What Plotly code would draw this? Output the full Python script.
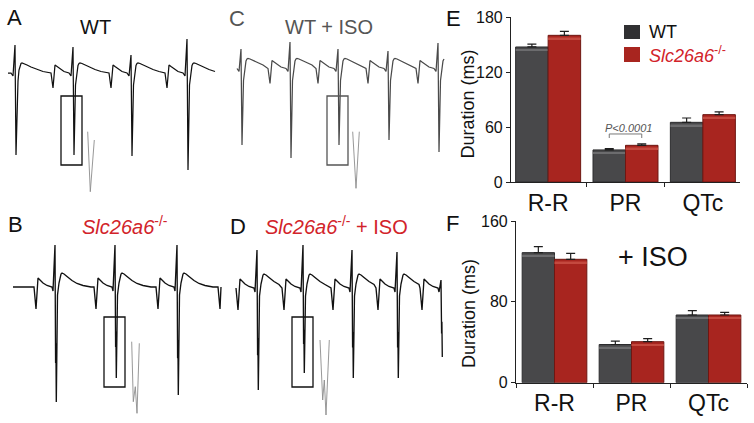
import plotly.graph_objects as go

W, H = 754, 423
FONT = "Arial, Liberation Sans, sans-serif"
GRAY_BAR = "#48484a"
RED_BAR = "#a8251f"
GRAY_HI = "#6c6c6e"
RED_HI = "#c4493f"
RED_TXT = "#d2232a"

# ---------------- bar chart data ----------------
intervals = ["R-R", "PR", "QTc"]
wt_base = [147.3, 35.0, 65.1]
wt_base_err = [3.2, 1.5, 4.7]
ko_base = [160.0, 40.0, 73.5]
ko_base_err = [4.4, 1.5, 2.9]
wt_iso = [128.7, 37.8, 67.0]
wt_iso_err = [5.9, 3.3, 4.3]
ko_iso = [122.1, 40.6, 67.0]
ko_iso_err = [5.9, 3.0, 2.6]
yticks_base = [0, 60, 120, 180]
yticks_iso = [0, 80, 160]

# ---------------- ECG data (ms, mV) ----------------
# WT beat template
wt_pre_ms = [-55, -50, -45, -40, -32.5, -22.5, -10, -5]
wt_pre_mv = [0, -0.30, 0.16, 0.13, 0.08, 0.03, 0, -0.06]
wt_s_ms = 2.5
wt_tail_ms = [6.25, 7.5, 10, 12.5, 15, 17.5, 22.5, 30, 40, 55, 70, 90]
wt_tail_mv = [-0.24, -0.16, 0.06, 0.15, 0.19, 0.20, 0.19, 0.16, 0.12, 0.07, 0.03, 0]
# Slc26a6-/- beat template (notched S downstroke)
ko_pre_ms = [-52.5, -47.5, -42.5, -37.5, -30, -20, -7.5, -5]
ko_pre_mv = [0, -0.44, 0.18, 0.14, 0.08, 0.03, 0, -0.08]
ko_notch_ms = [1.5, 2.25]
ko_notch_frac = [0.66, 0.49]
ko_s_ms = 3.25
ko_tail_ms = [6.25, 10, 12.5, 15, 17.5, 22.5, 30, 42.5, 55, 70, 90]
ko_tail_mv = [-0.16, 0.08, 0.2, 0.26, 0.28, 0.26, 0.21, 0.13, 0.07, 0.03, 0]

# panel A: WT
a_r_ms = [17.5, 162.5, 307.5, 447.5]
a_r_mv = [0.56, 0.52, 0.36, 0.68]
a_s_mv = [1.64, 1.64, 1.66, 1.94]
a_end_ms = 517.5
a_inset_ms = [199.25, 205.75, 215.75]
a_inset_mv = [-1.174, -2.374, -1.34]
# panel C: WT + ISO
c_r_ms = [10, 132.5, 252.5, 377.5, 502.5]
c_r_mv = [0.39, 0.53, 0.39, 0.35, 0.51]
c_s_mv = [1.53, 1.79, 1.53, 1.43, 1.67]
c_end_ms = 517.5
c_inset_ms = [289.25, 297.5, 305.75]
c_inset_mv = [-1.264, -2.396, -1.264]
# panel B: Slc26a6-/-
b_r_ms = [105, 255, 410, 565]
b_r_mv = [0.84, 0.84, 0.84, 0.84]
b_s_mv = [2.3, 1.82, 2.16, 2.0]
b_end_ms = 520
b_inset_ms = [296.75, 300.75, 305.75, 310, 315.75]
b_inset_mv = [-1.094, -2.294, -1.994, -2.526, -1.126]
# panel D: Slc26a6-/- + ISO
d_r_ms = [52.5, 167.5, 290, 402.5, 512.5]
d_r_mv = [0.76, 0.86, 0.76, 0.72, 0.16]
d_s_mv = [2.04, 1.7, 1.8, 1.8, 1.38]
d_end_ms = 516
d_inset_ms = [210, 216.75, 220.75, 225, 233.25]
d_inset_mv = [-1.04, -2.24, -1.84, -2.54, -1.04]


def build_ecg(r_ms, r_mv, s_mv, end, ko):
    pre_ms, pre_mv = (ko_pre_ms, ko_pre_mv) if ko else (wt_pre_ms, wt_pre_mv)
    tail_ms, tail_mv = (ko_tail_ms, ko_tail_mv) if ko else (wt_tail_ms, wt_tail_mv)
    ts, vs = [0.0], [0.0]
    for i, tr in enumerate(r_ms):
        for dt, v in zip(pre_ms, pre_mv):
            t = tr + dt
            if t > ts[-1] and t <= end:
                ts.append(t); vs.append(v)
        qrs_t = [tr]
        qrs_v = [r_mv[i]]
        if ko:
            for dt, f in zip(ko_notch_ms, ko_notch_frac):
                qrs_t.append(tr + dt); qrs_v.append(-f * s_mv[i])
            qrs_t.append(tr + ko_s_ms); qrs_v.append(-s_mv[i])
        else:
            qrs_t.append(tr + wt_s_ms); qrs_v.append(-s_mv[i])
        for t, v in zip(qrs_t, qrs_v):
            if t <= end:
                ts.append(t); vs.append(v)
        nxt = r_ms[i + 1] + pre_ms[0] if i + 1 < len(r_ms) else 1e9
        for dt, v in zip(tail_ms, tail_mv):
            t = tr + dt
            if t < nxt and t <= end:
                ts.append(t); vs.append(v)
    if ts[-1] < end - 1:
        ts.append(end); vs.append(0.0)
    return ts, vs


fig = go.Figure()

# ---------------- bars ----------------
def add_bars(wt, wte, ko, koe, xa, ya, hl_off, hl_h):
    for vals, errs, col, hi, edge, grp in [(wt, wte, GRAY_BAR, GRAY_HI, "#2c2c2e", "wt"),
                                           (ko, koe, RED_BAR, RED_HI, "#6e1712", "ko")]:
        fig.add_trace(go.Bar(
            x=intervals, y=vals, xaxis=xa, yaxis=ya, offsetgroup=grp,
            marker=dict(color=col, line=dict(color=edge, width=1)),
            error_y=dict(type="data", symmetric=False, array=errs,
                         arrayminus=[0] * len(errs), color="#1e1e1e",
                         thickness=1.2, width=4.5),
            showlegend=False, hoverinfo="skip"))
        # subtle top highlight band (3-D look of the original bars)
        fig.add_trace(go.Bar(
            x=intervals, y=[hl_h] * len(vals), base=[v - hl_off for v in vals],
            xaxis=xa, yaxis=ya, offsetgroup=grp,
            marker=dict(color=hi, line=dict(width=0)),
            showlegend=False, hoverinfo="skip"))

add_bars(wt_base, wt_base_err, ko_base, ko_base_err, "x", "y", 4.2, 1.8)
add_bars(wt_iso, wt_iso_err, ko_iso, ko_iso_err, "x2", "y2", 3.8, 1.6)

# ---------------- ECG panels ----------------
MS_PER_PX = 2.5
MV_PER_PX = 0.02

panels = [
    ("3", (0, 225, 0, 200), (8, 73), (a_r_ms, a_r_mv, a_s_mv, a_end_ms), False, "#111111",
     (a_inset_ms, a_inset_mv), (61, 82, 96, 165), "#111111"),
    ("4", (225, 450, 0, 200), (237, 68.5), (c_r_ms, c_r_mv, c_s_mv, c_end_ms), False, "#4a4a4a",
     (c_inset_ms, c_inset_mv), (327, 348, 96, 165), "#555555"),
    ("5", (0, 225, 200, 423), (13, 287), (b_r_ms, b_r_mv, b_s_mv, b_end_ms), True, "#111111",
     (b_inset_ms, b_inset_mv), (104, 125, 317, 387), "#111111"),
    ("6", (225, 450, 200, 423), (236, 288), (d_r_ms, d_r_mv, d_s_mv, d_end_ms), True, "#111111",
     (d_inset_ms, d_inset_mv), (292, 313, 317, 387), "#111111"),
]

layout_axes = {}
shapes = []
for aid, (bx0, bx1, by0, by1), (ox, oy), data, ko, col, inset, box, boxcol in panels:
    xr = [(bx0 - ox) * MS_PER_PX, (bx1 - ox) * MS_PER_PX]
    yr = [(oy - by1) * MV_PER_PX, (oy - by0) * MV_PER_PX]
    layout_axes["xaxis" + aid] = dict(domain=[bx0 / W, bx1 / W], range=xr, visible=False,
                                      anchor="y" + aid, fixedrange=True, automargin=False)
    layout_axes["yaxis" + aid] = dict(domain=[1 - by1 / H, 1 - by0 / H], range=yr, visible=False,
                                      anchor="x" + aid, fixedrange=True, automargin=False)
    ts, vs = build_ecg(*data, ko)
    fig.add_trace(go.Scatter(x=ts, y=vs, mode="lines", xaxis="x" + aid, yaxis="y" + aid,
                             line=dict(color=col, width=1.35 if ko else 1.25),
                             showlegend=False, hoverinfo="skip"))
    fig.add_trace(go.Scatter(x=inset[0], y=inset[1], mode="lines", xaxis="x" + aid,
                             yaxis="y" + aid, line=dict(color="#8c8c8c", width=0.9),
                             showlegend=False, hoverinfo="skip"))
    x0, x1, y0, y1 = box
    shapes.append(dict(type="rect", xref="x" + aid, yref="y" + aid,
                       x0=(x0 - ox) * MS_PER_PX, x1=(x1 - ox) * MS_PER_PX,
                       y0=(oy - y0) * MV_PER_PX, y1=(oy - y1) * MV_PER_PX,
                       line=dict(color=boxcol, width=1.3)))

def px(x):
    return x / W

def py(y):
    return 1 - y / H

bw = (1 - 0.16) / 2
shapes.append(dict(type="path", xref="x", yref="y",
                   path=f"M {1 - bw / 2},48 L {1 - bw / 2},52.4 L {1 + bw / 2},52.4 L {1 + bw / 2},48",
                   line=dict(color="#777777", width=1)))
shapes.append(dict(type="rect", xref="paper", yref="paper", x0=px(624), x1=px(640),
                   y0=py(39), y1=py(25), fillcolor="#303032", line=dict(width=0)))
shapes.append(dict(type="rect", xref="paper", yref="paper", x0=px(624), x1=px(640),
                   y0=py(62), y1=py(47), fillcolor=RED_BAR, line=dict(width=0)))

ann = []
def text(x, y, s, size, color="#111111", xanchor="left", angle=0):
    ann.append(dict(x=px(x), y=py(y), xref="paper", yref="paper", text=s, showarrow=False,
                    xanchor=xanchor, yanchor="middle", textangle=angle,
                    font=dict(family=FONT, size=size, color=color)))

text(5, 18, "A", 22)
text(227, 19, "C", 22, "#555555")
text(6, 224, "B", 22)
text(228, 226, "D", 22)
text(444, 19, "E", 22)
text(444, 223, "F", 22)
text(78, 27, "WT", 20)
text(283, 27, "WT + ISO", 20, "#555555")
text(80, 225, "<i>Slc26a6</i><sup>-/-</sup>", 20, RED_TXT)
text(263, 225, "<i>Slc26a6</i><sup>-/-</sup> + ISO", 20, RED_TXT)
text(647, 32, "WT", 18)
text(647, 55, "<i>Slc26a6</i><sup>-/-</sup>", 18, RED_TXT)
text(628, 128, "<i>P<0.0001</i>", 11, "#555555", xanchor="center")
text(653, 257, "+ ISO", 27, xanchor="center")
text(468, 104.5, "Duration (ms)", 18, xanchor="center", angle=-90)
text(469, 314, "Duration (ms)", 18, xanchor="center", angle=-90)

axis_common = dict(showline=True, linecolor="#222222", linewidth=1.2, ticks="outside",
                   ticklen=4, tickcolor="#222222", showgrid=False, zeroline=False,
                   fixedrange=True, automargin=False)

fig.update_layout(
    template="none",
    width=W, height=H, margin=dict(l=0, r=0, t=0, b=0, pad=0, autoexpand=False),
    paper_bgcolor="white", plot_bgcolor="rgba(0,0,0,0)",
    font=dict(family=FONT, color="#111111"),
    barmode="group", bargap=0.16, bargroupgap=0,
    showlegend=False,
    xaxis=dict(domain=[px(511), px(740)], anchor="y", type="category",
               range=[-0.48, 2.48], tickson="boundaries",
               tickfont=dict(size=23, family=FONT, color="#111111"), **axis_common),
    yaxis=dict(domain=[py(182), py(17)], anchor="x", range=[0, 180], tickvals=yticks_base,
               tickfont=dict(size=16, family=FONT, color="#111111"), **axis_common),
    xaxis2=dict(domain=[px(516), px(747)], anchor="y2", type="category",
                range=[-0.5, 2.5], tickson="boundaries",
                tickfont=dict(size=23, family=FONT, color="#111111"), **axis_common),
    yaxis2=dict(domain=[py(382.7), py(221)], anchor="x2", range=[0, 160], tickvals=yticks_iso,
                tickfont=dict(size=16, family=FONT, color="#111111"), **axis_common),
    shapes=shapes, annotations=ann,
    **layout_axes,
)

fig.write_html("out.html", config={"displayModeBar": False},
               post_script="document.body.style.margin='0';document.body.style.overflow='hidden';")
